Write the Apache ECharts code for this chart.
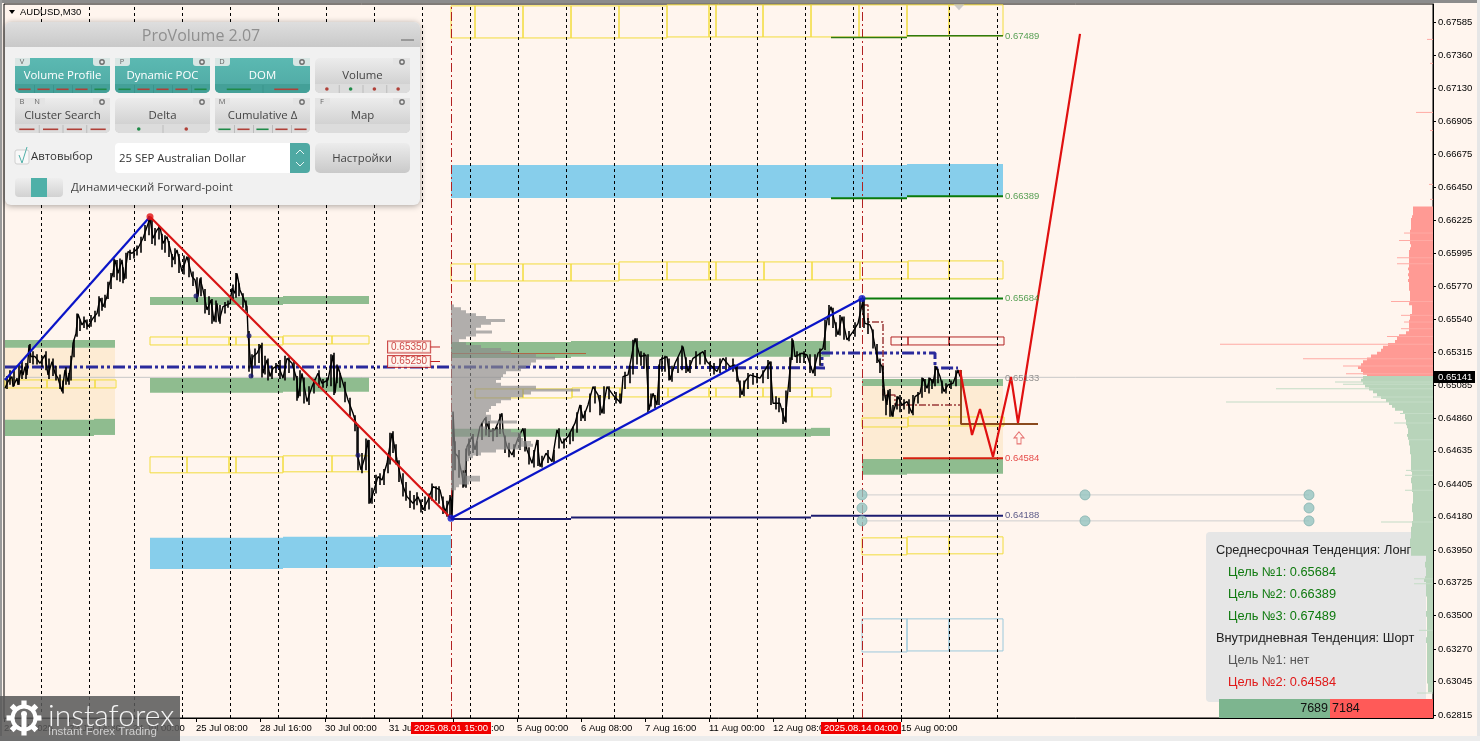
<!DOCTYPE html>
<html><head><meta charset="utf-8">
<style>html,body{margin:0;padding:0;background:#fff5ee;overflow:hidden}#c{width:1480px;height:741px}</style>
<script src="https://cdn.jsdelivr.net/npm/echarts@6/dist/echarts.min.js"></script>
</head><body><div id="c"></div>
<script>
// ---------- axes ----------
const priceTicks=[0.67585,0.67360,0.67130,0.66905,0.66675,0.66450,0.66225,0.65995,0.65770,0.65540,0.65315,0.65085,0.64860,0.64635,0.64405,0.64180,0.63950,0.63725,0.63500,0.63270,0.63045,0.62815];
const timeTickBars=[4,69,133,196,260,325,389,453,517,581,645,709,773,837,901];
const timeTickLabels=["21 Jul 2025","22 Jul 14:30","24 Jul 00:00","25 Jul 08:00","28 Jul 16:00","30 Jul 00:00","31 Jul 08:00","1 Aug 16:00","5 Aug 00:00","6 Aug 08:00","7 Aug 16:00","11 Aug 00:00","12 Aug 08:00","13 Aug 16:00","15 Aug 00:00"];
const daySeparatorBars=[41,89,134,182,230,278,326,374,422,470,518,566,614,662,710,757,805,853,901,949,997];
const sessionBars=[451,862];
const currentPrice=0.65141;
// ---------- price path [bar, price*1e5] ----------
const priceBars=[5,8,12,13,17,18,21,23,25,27,29,31,35,40,45,48,52,55,58,62,65,68,72,73,76,78,82,85,88,93,97,100,103,107,109,113,115,118,122,124,128,132,138,143,147,150,153,157,160,163,167,170,173,177,182,187,192,195,198,200,203,207,211,214,217,219,223,230,232,235,237,240,247,248,251,253,257,261,263,267,270,273,278,283,287,292,297,298,302,307,312,318,322,328,333,335,338,343,348,353,357,357,361,365,368,370,375,378,382,387,392,397,402,407,413,418,423,428,433,440,445,451,452,453,453,455,458,462,464,467,472,475,480,485,490,495,502,503,507,512,518,523,527,532,537,540,546,552,557,562,568,575,580,583,588,593,598,602,607,613,621,623,628,635,640,646,649,653,657,660,667,670,675,683,688,693,703,707,717,723,730,735,738,742,745,750,760,765,770,773,780,785,788,793,795,802,807,813,818,823,827,831,835,838,842,847,853,858,863,863,865,870,872,875,878,882,885,887,888,892,895,898,902,907,912,915,920,923,927,930,933,936,940,944,948,953,958,960];
const priceVals=[65066,65112,65146,65077,65135,65089,65192,65157,65215,65157,65364,65284,65284,65238,65295,65157,65249,65169,65135,65043,65192,65112,65284,65376,65444,65578,65502,65536,65490,65548,65582,65686,65628,65697,65777,65858,65950,65858,65950,65812,66007,65996,66030,66099,66179,66237,66099,66156,66179,66064,66110,66030,65950,66018,65869,65973,65835,65812,65697,65823,65743,65605,65674,65525,65651,65525,65628,65651,65754,65720,65858,65743,65628,65444,65215,65284,65307,65364,65169,65261,65146,65203,65226,65135,65272,65238,65123,64997,65169,64974,65077,65169,65100,65123,65295,65031,65215,65100,64985,64893,64802,64618,64503,64595,64710,64273,64388,64457,64434,64549,64756,64572,64411,64319,64273,64319,64228,64296,64388,64365,64216,64319,64170,64388,64905,64618,64595,64469,64388,64664,64733,64641,64802,64859,64767,64779,64893,64767,64664,64606,64721,64790,64641,64549,64710,64526,64618,64561,64779,64687,64733,64825,64951,64859,64951,65077,65020,64893,65077,65020,64962,65146,65158,65410,65284,65295,64916,65031,64951,65261,65284,65123,65238,65353,65181,65272,65318,65249,65181,65272,65215,65226,65135,65020,65112,65158,65135,65192,65249,64962,64962,64836,65054,65399,65284,65307,65295,65169,65307,65341,65536,65628,65513,65433,65559,65399,65456,65513,65674,65582,65513,65502,65468,65353,65261,65215,65008,64951,65054,64871,64940,65008,64951,64974,64894,65008,65031,65135,65066,65135,65100,65215,65146,65043,65089,65100,65192,65146];
// high-low ranges of bars read along the path [bar, high*1e5, low*1e5]
const barRanges=[[7,65150,65060],[10,65190,65090],[14,65200,65080],[19,65230,65090],[22,65260,65130],[26,65240,65130],[30,65370,65240],[33,65320,65230],[37,65300,65230],[42,65290,65210],[46,65320,65190],[49,65270,65130],[53,65270,65150],[56,65220,65120],[60,65160,65060],[63,65120,65030],[66,65210,65090],[69,65170,65090],[71,65290,65120],
[74,65400,65280],[77,65580,65420],[80,65540,65460],[84,65560,65480],[87,65540,65470],[91,65570,65490],[95,65600,65520],[99,65700,65560],[102,65690,65600],[105,65710,65620],[108,65800,65680],[111,65860,65750],[114,65960,65830],[117,65950,65810],[120,65960,65800],[123,65900,65790],[126,66000,65820],[130,66020,65950],[134,66030,65960],[137,66050,65980],[141,66110,66000],[145,66190,66080],[149,66250,66120],[152,66230,66060],[155,66170,66050],[159,66190,66090],[162,66130,66020],[165,66120,66000],[169,66080,65970],[172,65990,65900],[175,66030,65920],[179,65990,65860],[184,65980,65850],[189,65980,65830],[193,65870,65770],[197,65830,65660],[201,65830,65700],[205,65750,65580],[209,65700,65570],[212,65680,65510],[216,65670,65520],[220,65640,65510],[225,65660,65580],[228,65670,65620],[233,65780,65680],[236,65860,65690],[239,65790,65700],[243,65720,65620],[246,65670,65600],[249,65460,65180],[252,65300,65140],[255,65340,65220],[259,65370,65240],[262,65380,65140],[265,65290,65160],[268,65270,65120],[272,65220,65130],[276,65240,65170],[280,65260,65130],[285,65290,65120],[289,65280,65170],[294,65260,65120],[297,65150,64980],[300,65190,65010],[304,65140,64960],[309,65080,64950],[314,65130,65030],[319,65190,65070],[323,65130,65070],[327,65140,65080],[331,65300,65080],[334,65310,65020],[337,65230,65100],[340,65170,65070],[345,65110,64970],[350,65000,64870],[355,64880,64770],[358,64800,64500],[362,64620,64480],[366,64720,64500],[369,64710,64270],[372,64380,64270],[376,64470,64340],[380,64480,64400],[384,64510,64400],[388,64600,64480],[390,64760,64540],[393,64770,64620],[396,64680,64540],[399,64570,64420],[403,64480,64320],[406,64420,64290],[410,64360,64240],[414,64330,64230],[417,64350,64260],[421,64300,64210],[425,64320,64220],[429,64340,64230],[432,64410,64290],[436,64390,64290],[439,64390,64270],[443,64320,64200],[447,64290,64180],[450,64330,64190],
[455,64700,64500],[459,64640,64450],[463,64500,64380],[466,64650,64380],[469,64720,64600],[473,64750,64620],[477,64700,64600],[482,64830,64710],[486,64870,64740],[489,64840,64730],[493,64790,64700],[497,64800,64730],[500,64890,64750],[505,64740,64620],[509,64690,64590],[514,64680,64590],[520,64740,64640],[525,64790,64630],[529,64660,64540],[534,64640,64520],[538,64710,64530],[542,64600,64520],[548,64640,64550],[554,64640,64550],[559,64790,64650],[564,64720,64650],[570,64760,64680],[573,64800,64700],[577,64900,64760],[581,64950,64840],[585,64910,64840],[590,65030,64900],[595,65080,64960],[600,65020,64880],[604,65080,64890],[609,65080,64990],[616,65040,64960],[620,65030,64960],[625,65180,65060],[630,65220,65100],[633,65400,65160],[637,65410,65230],[641,65320,65220],[644,65310,65200],[648,65300,64900],[651,65030,64940],[655,65020,64930],[659,65230,64950],[662,65280,65180],[665,65290,65180],[669,65270,65120],[672,65220,65110],[678,65280,65170],[682,65360,65190],[686,65280,65170],[690,65260,65170],[696,65320,65200],[700,65310,65230],[705,65330,65230],[710,65250,65180],[714,65240,65160],[720,65270,65170],[726,65280,65190],[733,65270,65180],[737,65220,65110],[740,65120,65000],[744,65120,65010],[748,65170,65060],[753,65170,65090],[757,65170,65100],[763,65190,65100],[768,65260,65130],[771,65250,64950],[776,65010,64920],[779,65000,64900],[783,64930,64820],[786,65050,64830],[790,65280,65040],[792,65410,65260],[797,65320,65240],[800,65310,65240],[804,65320,65240],[810,65300,65170],[815,65300,65150],[820,65340,65220],[825,65540,65330],[829,65640,65500],[833,65620,65480],[836,65520,65420],[840,65570,65430],[844,65560,65400],[849,65460,65390],[855,65520,65420],[860,65680,65480],
[864,65680,65480],[868,65550,65440],[873,65470,65340],[877,65370,65240],[880,65270,65170],[883,65220,64980],[886,65020,64880],[890,65060,64870],[893,64950,64870],[897,65010,64920],[900,65020,64900],[904,64990,64920],[909,64990,64890],[913,65020,64880],[918,65040,64960],[922,65140,65000],[925,65130,65040],[929,65140,65030],[932,65130,65060],[935,65220,65080],[938,65200,65100],[942,65120,65030],[946,65100,65030],[951,65120,65060],[956,65190,65080]];
// ---------- zones [barStart, barEnd, priceTop, priceBottom] ----------
const greenZones=[[5,115,.65399,.65344],[5,94,.64848,.64737],[94,115,.64855,.64744],[150,283,.65695,.65640],[283,369,.65702,.65647],[150,283,.65137,.65034],[283,369,.65144,.65041],[451,571,.65385,.65275],[571,830,.65392,.65282],[451,811,.64786,.64731],[811,830,.64793,.64737],[862,1003,.65130,.65082],[862,907,.64579,.64469],[907,1003,.64579,.64476]];
const orangeZones=[[5,115,.65344,.64848],[862,1003,.65082,.64579]];
const blueZones=[[150,283,.64035,.63821],[283,378,.64042,.63828],[378,451,.64055,.63835],[451,907,.66604,.66377],[907,1003,.66611,.66391]];
const yellowBoxes=[[451,475,.67700,.67479],[475,523,.67700,.67479],[523,571,.67700,.67479],[571,619,.67700,.67479],[619,667,.67700,.67479],[667,709,.67707,.67486],[709,716,.67707,.67486],[716,763,.67707,.67486],[763,811,.67707,.67486],[811,859,.67707,.67486],[859,907,.67707,.67486],[907,949,.67707,.67493],[949,1003,.67707,.67493],
[451,475,.65922,.65805],[475,523,.65922,.65805],[523,571,.65922,.65805],[571,619,.65922,.65805],[619,667,.65936,.65812],[667,709,.65936,.65812],[709,716,.65936,.65812],[716,764,.65936,.65812],[764,812,.65936,.65812],[812,860,.65936,.65812],[860,908,.65936,.65819],[908,949,.65943,.65819],[949,1003,.65943,.65819],
[150,187,.65419,.65364],[187,229,.65419,.65364],[229,236,.65419,.65364],[236,283,.65419,.65364],[283,332,.65426,.65371],[332,369,.65426,.65371],
[150,187,.64593,.64483],[187,229,.64593,.64483],[229,236,.64593,.64483],[236,283,.64593,.64483],[283,332,.64600,.64490],[332,369,.64600,.64490],
[5,47,.65123,.65068],[47,95,.65123,.65068],[95,116,.65123,.65068],
[475,523,.65061,.64999],[523,572,.65061,.64999],[572,620,.65068,.65006],[620,668,.65068,.65006],[668,709,.65068,.65006],[709,716,.65068,.65006],[716,763,.65068,.65006],[763,812,.65068,.65006],[812,831,.65068,.65006],
[862,908,.64861,.64799],[908,949,.64868,.64806],[949,1004,.64868,.64806],
[862,907,.64035,.63918],[907,949,.64042,.63925],[949,1003,.64042,.63925]];
const lightBlueBoxes=[[862,907,.63477,.63249],[907,949,.63477,.63256],[949,1003,.63477,.63256]];
const redBoxes=[[891,908,.65419,.65364],[908,949,.65419,.65364],[949,1004,.65419,.65364]];
// ---------- lines [bar, price] ----------
const trendUp1=[[5,.65123],[150,.66247]];
const trendDown=[[150,.66247],[451,.64170]];
const trendUp2=[[451,.64170],[862,.65684]];
const pocLine=[[5,.65213],[451,.65213],[825,.65206],[822,.65206],[822,.65309],[935,.65309],[935,.65206],[958,.65206]];
const dynPocLine=[[863,.65640],[868,.65640],[868,.65523],[883,.65523],[883,.65020],[895,.65020],[895,.64951],[960,.64951]];
const forecast=[[960,.65192],[972,.64744],[980,.64923],[993,.64593],[1011,.65144],[1018,.64827],[1080,.67507]];
const brownLine=[[961,.65192],[961,.64820],[1038,.64820]];
const target3=[[[831,.67483],[907,.67483]],[[907,.67495],[1003,.67495]]];
const target2=[[[831,.66375],[907,.66375]],[[907,.66389],[1003,.66389]]];
const target1=[[862,.65684],[1003,.65684]];
const supportLow=[[[451,.64165],[571,.64165]],[[571,.64175],[811,.64175]],[[811,.64188],[1003,.64188]]];
const targetDown=[[903,.64584],[1003,.64584]];
const pocBrown=[[451,.65305],[586,.65305]];
const linkLines=[[[862,.64331],[1309,.64331]],[[862,.64152],[1309,.64152]]];
const linkDots=[[862,.64331],[862,.64241],[862,.64152],[1085,.64331],[1085,.64152],[1309,.64331],[1309,.64241],[1309,.64152]];
const pivotRed=[[150,.66247]];
const pivotBlue=[[451,.64170],[862,.65684]];
const smallDots=[[196,.65702],[249,.65427],[251,.65151],[358,.64604]];
// ---------- volume profile left of session 1 (rows every 0.00020 from the top) ----------
const grayProfileTop=.65633;
const grayProfile=[3,10,15,25,35,54,40,30,25,41,25,15,8,15,30,50,60,85,104,85,80,75,70,55,52,50,45,50,85,129,80,72,60,50,45,40,38,35,40,40,66,30,35,60,70,70,72,80,82,70,45,30,22,18,15,15,15,12,15,29,29,18,8,5];
// ---------- DOM on right ----------
const domRowStep=.0002;
const askTop=.66308;
const askVols=[20,20,20,21,22,22,22,22,23,23,23,23,23,22,23,24,24,24,24,24,24,25,24,25,24,25,24,24,24,23,23,23,23,24,21,21,21,23,23,24,24,24,24,27,34,36,38,45,50,52,56,62,66,70,72,75,72,70,66];
const askSpikes=[[.67472,6],[.67307,3],[.66969,17],[.66845,3],[.66473,4],[.66370,3],[.66138,29],[.66087,34],[.65968,36],[.65927,36],[.65667,42],[.65571,32],[.65525,29],[.65479,32],[.65426,46],[.65371,213],[.65272,130],[.65222,90],[.65169,87]];
const bidTop=.65141;
const bidVols=[70,72,70,68,64,60,56,52,47,44,41,38,30,28,28,27,27,26,25,25,26,25,24,24,23,23,23,22,22,22,22,22,22,21,21,22,22,21,21,21,20,20,20,20,21,21,21,20,20,20,21,21,22,22,22,22,23,23,23,22,22,22,7,7,8,8,7,7,7,8,9,7,7,7,7,7,6,6,6,6,6,7,7,6,6,6,6,6,6,6,7,7,6,6,6,6,6,6,6,6,6,6,6,6,6,6,5,5,5];
const bidSpikes=[[.65112,98],[.65096,90],[.65066,157],[.65008,60],[.64974,207],[.64894,33],[.64829,39],[.64714,24],[.64503,27],[.64469,28],[.64366,28],[.64147,52],[.63756,19],[.63722,19],[.63401,14],[.62969,16]];
const domBuy=7689, domSell=7184;
// ---------- texts ----------
const infoLines=[["Среднесрочная Тенденция: Лонг","#222",1216],["Цель №1: 0.65684","#0f7a0f",1228],["Цель №2: 0.66389","#0f7a0f",1228],["Цель №3: 0.67489","#0f7a0f",1228],["Внутридневная Тенденция: Шорт","#222",1216],["Цель №1: нет","#555",1228],["Цель №2: 0.64584","#e01818",1228]];

const AX='"Liberation Sans",Arial,sans-serif', UI='"Open Sans",sans-serif';
const X0=4,Y0=4,W=1429,H=714;
const pMax=.67713,pMin=.62794;

function boxSeries(name,data,style,z){return{name,type:'custom',coordinateSystem:'cartesian2d',z,silent:true,animation:false,clip:true,
  encode:{x:[0,1],y:[2,3]},data,
  renderItem(p,api){const a=api.coord([api.value(0),api.value(2)]),b=api.coord([api.value(1),api.value(3)]);
    return{type:'rect',shape:{x:a[0],y:a[1],width:b[0]-a[0],height:b[1]-a[1]},style};}};}
function line(name,data,color,width,z,type){return{name,type:'line',data,z,symbol:'none',silent:true,animation:false,clip:true,
  lineStyle:{color,width,type:type||'solid',cap:'butt'}};}
function multiLine(name,list,color,width,z){return list.map((d,i)=>line(name+(i||''),d,color,width,z));}
function tag(name,data,color,z){return{name,type:'scatter',symbolSize:0,z,silent:true,animation:false,data,
  label:{show:true,position:'right',distance:2,formatter:p=>p.value[1].toFixed(5),color,fontSize:9.5,fontFamily:AX}};}
function dots(name,data,color,size,z,extra){return Object.assign({name,type:'scatter',symbol:'circle',symbolSize:size,z,silent:true,animation:false,data,itemStyle:{color}},extra||{});}
// thin rows: one rectangle each
function profile(name,rows,fill,z,barOfVol,rowH){return{name,type:'custom',coordinateSystem:'cartesian2d',z,silent:true,animation:false,clip:true,
  data:rows,encode:{y:0},
  renderItem(p,api){const price=api.value(0),v=api.value(1);
    const a=api.coord(barOfVol(0,price+rowH/2)),b=api.coord(barOfVol(v,price-rowH/2));
    const x=Math.min(a[0],b[0]),w=Math.abs(b[0]-a[0]);
    return{type:'rect',shape:{x,y:a[1],width:w,height:Math.max(b[1]-a[1],1)},style:{fill}};}};}
// contiguous rows: one stepped outline through the scales
function stepProfile(name,rows,fill,z,barOfVol,rowH){return{name,type:'custom',coordinateSystem:'cartesian2d',z,silent:true,animation:false,clip:true,
  data:rows,encode:{y:0},
  renderItem(p,api){ if(p.dataIndex!==0) return null;
    const pts=[api.coord(barOfVol(0,rows[0][0]+rowH/2))];
    rows.forEach(r=>{pts.push(api.coord(barOfVol(r[1],r[0]+rowH/2)));pts.push(api.coord(barOfVol(r[1],r[0]-rowH/2)));});
    pts.push(api.coord(barOfVol(0,rows[rows.length-1][0]-rowH/2)));
    return{type:'polygon',shape:{points:pts},style:{fill}};}};}
const rowsFrom=(top,vols)=>vols.map((v,i)=>[top-i*domRowStep,v]);
const fromRight=(v,p)=>[1433-v,p], fromLeft=(v,p)=>[451+v,p];

// ---------- overlay UI (graphic) ----------
const G=[];
const R=(x,y,w,h,fill,o)=>G.push(Object.assign({type:'rect',z:60,silent:true,shape:{x,y,width:w,height:h,r:(o&&o.r)||0},style:Object.assign({fill},(o&&o.s)||{})},o&&o.z?{z:o.z}:{}));
const T=(x,y,text,font,fill,align,z)=>G.push({type:'text',z:z||62,silent:true,x,y,style:{text,font,fill,textAlign:align||'left',textVerticalAlign:'middle'}});
const grad=(a,b)=>({type:'linear',x:0,y:0,x2:0,y2:1,colorStops:[{offset:0,color:a},{offset:1,color:b}]});
// outer chrome
R(0,0,1480,3,'#8c8c8c',{z:70});R(0,0,2,741,'#9a9a9a',{z:70});R(1477,0,3,741,'#e6e6e6',{z:70});R(0,736,1480,5,'#ececec',{z:70});
// symbol label
G.push({type:'polygon',z:60,silent:true,shape:{points:[[9,10],[15,10],[12,14]]},style:{fill:'#000'}});
T(20,12,'AUDUSD,M30','9.5px '+AX,'#000');
// panel
R(5,22,415,183,'#f1f1f1',{r:6,s:{shadowBlur:6,shadowColor:'rgba(0,0,0,.35)',shadowOffsetY:1}});
R(5,22,415,25,grad('#dedede','#c9c9c9'),{r:[6,6,0,0]});
T(201,36,'ProVolume 2.07','16px '+UI,'#8f8f8f','center');
R(401,39,13,2,'#999');
const UIF='11.4px '+UI;
function button(x,y,w,label,active,tabs,ind){
  const h=35,main=active?grad('#5bb9b2','#4fa9a3'):grad('#ececec','#c9c9c9');
  R(x,y,w,h,main,{r:5});
  R(x,y+26,w,9,active?'#44a098':'#dcdcdc',{r:[0,0,5,5]});
  tabs.forEach((t,i)=>{R(x+i*15,y,15,8,active?'#d9e6e4':'#e4e4e4',{r:[0,0,3,0]});T(x+i*15+7,y+4,t,'7.5px '+UI,'#666','center');});
  R(x+w-17,y,17,8,active?'#d9e6e4':'#e4e4e4',{r:[0,0,0,3]});
  G.push({type:'circle',z:62,silent:true,shape:{cx:x+w-8,cy:y+4,r:2.2},style:{fill:'#e8e8e8',stroke:'#6f6f6f',lineWidth:1.4}});
  T(x+w/2,y+18,label,UIF,active?'#fff':'#444','center');
  const n=ind.length;
  ind.forEach((c,i)=>{const cw=w/n,cx=x+cw*i+cw/2;
    if(i>0)R(x+cw*i,y+27,1,8,active?'#3b938c':'#bcbcbc');
    if(c[0]==='.')G.push({type:'circle',z:62,silent:true,shape:{cx,cy:y+31,r:1.8},style:{fill:c.slice(1)}});
    else if(c)R(cx-Math.min(cw*.32,12),y+30.5,Math.min(cw*.64,24),1.6,c);});
}
const rd='#b04038',gr='#1f8a48';
button(15,58,95,'Volume Profile',true,['V'],[rd,rd,rd,rd,gr]);
button(115,58,95,'Dynamic POC',true,['P'],[gr,rd,rd,rd,gr]);
button(215,58,95,'DOM',true,['D'],[gr,rd]);
button(315,58,95,'Volume',false,[],['.'+rd,'.'+gr,'.'+rd,'.'+rd]);
button(15,98,95,'Cluster Search',false,['B','N'],[rd,rd,rd,rd]);
button(115,98,95,'Delta',false,[],['.'+gr,'.'+rd]);
button(215,98,95,'Cumulative Δ',false,['M'],[gr,rd,gr,rd,rd]);
button(315,98,95,'Map',false,['F'],[]);
R(15,150,14,14,'#f8f8f8',{r:2,s:{stroke:'#cfcfcf',lineWidth:1}});
G.push({type:'polyline',z:63,silent:true,shape:{points:[[19,155],[22,163],[27,147]]},style:{stroke:'#4fb0a8',lineWidth:1,fill:'none'}});
T(31,157,'Автовыбор',UIF,'#333');
R(115,143,195,30,'#fff',{r:4});
R(290,143,20,30,'#4fa9a3',{r:[0,4,4,0]});
G.push({type:'polyline',z:63,silent:true,shape:{points:[[296,154],[300,150],[304,154]]},style:{stroke:'#e8f4f3',lineWidth:1,fill:'none'}});
G.push({type:'polyline',z:63,silent:true,shape:{points:[[296,162],[300,166],[304,162]]},style:{stroke:'#e8f4f3',lineWidth:1,fill:'none'}});
T(119,159,'25 SEP Australian Dollar',UIF,'#333');
R(315,143,95,30,grad('#ececec','#c9c9c9'),{r:5});
T(362,159,'Настройки',UIF,'#444','center');
R(15,178,48,19,grad('#eeeeee','#d2d2d2'),{r:4});
R(31,178,16,19,'#4fb0a8');
T(71,188,'Динамический Forward-point',UIF,'#444');
// info panel (below DOM bars, text above)
R(1206,532,220,170,'#e6e6e6',{r:4,z:1});
infoLines.forEach((l,i)=>T(l[2],550.5+i*22,l[0],'12.8px '+AX,l[1],'left',20));
// DOM balance bar
R(1219,699,111,19,'#7db58f',{z:20});R(1330,699,103,19,'#ff5a58',{z:20});
T(1328,709,String(domBuy),'12.5px '+AX,'#111','right',21);T(1332,709,String(domSell),'12.5px '+AX,'#111','left',21);
// current price flag
R(1434,371,41,12,'#000',{z:30});T(1438,377.5,currentPrice.toFixed(5),'9.5px '+AX,'#fff','left',31);
// red time flags
R(411,722,80,12,'#f00000',{z:30});T(451,728.5,'2025.08.01 15:00','9.5px '+AX,'#fff','center',31);
R(821,722,80,12,'#f00000',{z:30});T(861,728.5,'2025.08.14 04:00','9.5px '+AX,'#fff','center',31);
// watermark
R(0,696,180,45,'rgba(88,88,88,.86)',{z:80});
for(let k=0;k<8;k++)G.push({type:'rect',z:81,silent:true,x:24,y:718,rotation:k*Math.PI/4,shape:{x:-2.6,y:-17.5,width:5.2,height:7},style:{fill:'#fff'}});
G.push({type:'circle',z:81,silent:true,shape:{cx:24,cy:718,r:11.5},style:{fill:'none',stroke:'#fff',lineWidth:4}});
G.push({type:'circle',z:81,silent:true,shape:{cx:24,cy:714,r:3},style:{fill:'#fff'}});
G.push({type:'rect',z:81,silent:true,shape:{x:21.5,y:716,width:5,height:12},style:{fill:'#fff'}});
T(48,716,'instaforex','300 30px Lato,'+UI,'#f4f4f4','left',82);
T(48,732,'Instant Forex Trading','11.5px '+AX,'#cfcfcf','left',82);

const series=[
  boxSeries('orange',orangeZones,{fill:'#fdebd3'},1),
  boxSeries('green',greenZones,{fill:'#8fbc8f'},1),
  boxSeries('blue',blueZones,{fill:'#87ceeb'},1),
  line('now',[[4,currentPrice],[1433,currentPrice]],'#c8c8c8',1,2),
  ...linkLines.map((d,i)=>line('link'+i,d,'#cfcfcf',1,2)),
  boxSeries('yellow',yellowBoxes,{fill:'none',stroke:'#f2dc3c',lineWidth:1},3),
  boxSeries('lightblue',lightBlueBoxes,{fill:'none',stroke:'#9cc9dc',lineWidth:1},3),
  boxSeries('redbox',redBoxes,{fill:'none',stroke:'#b22222',lineWidth:1},3),
  {name:'days',type:'line',data:[],z:4,silent:true,animation:false,markLine:{silent:true,symbol:'none',animation:false,label:{show:false},lineStyle:{color:'#000',width:1,type:[3,3]},
    data:daySeparatorBars.map(b=>({xAxis:b}))}},
  {name:'sessions',type:'line',data:[],z:4,silent:true,animation:false,markLine:{silent:true,symbol:'none',animation:false,label:{show:false},lineStyle:{color:'#b22222',width:1,type:[9,3,2,3]},
    data:sessionBars.map(b=>({xAxis:b}))}},
  line('poc',pocLine,'#2a2a9c',3,5,[12,3,3,3,3,3]),
  line('dynpoc',dynPocLine,'#9b3a3a',1.5,5,[7,2,2,2]),
  line('pocBrown',pocBrown,'#b5603c',1,6),
  line('price',priceBars.map((b,i)=>[b,priceVals[i]/1e5]),'#000',1.4,6),
  {name:'ranges',type:'custom',coordinateSystem:'cartesian2d',z:6,silent:true,animation:false,clip:true,data:barRanges,encode:{x:0,y:[1,2]},
    renderItem(p,api){const a=api.coord([api.value(0),api.value(1)/1e5]),b=api.coord([api.value(0),api.value(2)/1e5]);
      return{type:'line',shape:{x1:a[0],y1:a[1],x2:b[0],y2:b[1]},style:{stroke:'#000',lineWidth:1.6}};}},
  dots('small',smallDots,'#16166e',5,7),
  stepProfile('gray',rowsFrom(grayProfileTop,grayProfile),'rgba(140,140,140,.68)',7,fromLeft,domRowStep),
  line('up1',trendUp1,'#0a14c8',2.2,8),line('up2',trendUp2,'#0a14c8',2.2,8),line('down',trendDown,'#d81414',2.2,8),
  ...multiLine('t3',target3,'#2f7a10',1.5,8),
  ...multiLine('t2',target2,'#0a7a0a',2,8),
  line('t1',target1,'#0a7a0a',2,8),
  ...multiLine('low',supportLow,'#1c1c70',2,8),
  line('tdown',targetDown,'#d62010',2,8),
  line('brown',brownLine,'#8a4a1e',2,8),
  line('forecast',forecast,'#e01010',2.2,9),
  dots('linkdots',linkDots,'#95c4c0',10,9,{itemStyle:{color:'#95c4c0',borderColor:'#86b3b0',borderWidth:1}}),
  dots('pr',pivotRed,'#e01010',7,10),dots('pb',pivotBlue,'#0a14c8',7,10),
  {name:'arrow',type:'scatter',z:10,silent:true,animation:false,data:[[1019,.64724]],symbol:'path://M5 0 L10 6 L7 6 L7 12 L3 12 L3 6 L0 6 Z',symbolSize:[10,12],itemStyle:{color:'rgba(0,0,0,0)',borderColor:'#e05050',borderWidth:1}},
  {name:'mark',type:'scatter',z:10,silent:true,animation:false,data:[[959,.67690]],symbol:'triangle',symbolRotate:180,symbolSize:[11,6],itemStyle:{color:'#c0c0c0'}},
  tag('tg1',[[1003,.67489],[1003,.66389],[1003,.65684]],'#2e8b2e',11),
  tag('tg2',[[1003,.65133]],'#777',11),
  tag('tg3',[[1003,.64584]],'#e02020',11),
  tag('tg4',[[1003,.64188]],'#33336e',11),
  {name:'flags',type:'scatter',symbolSize:0,z:11,silent:true,animation:false,data:[[388,.65350],[388,.65250]],
    label:{show:true,position:'right',distance:0,formatter:p=>p.value[1].toFixed(5),color:'#c02020',fontSize:10,fontFamily:AX,borderColor:'#c02020',borderWidth:1,padding:[1,3,0,3],backgroundColor:'#fff5ee'}},
  line('f1',[[430,.65350],[440,.65350]],'#c02020',1,11),line('f2',[[430,.65250],[440,.65250]],'#c02020',1,11),
  stepProfile('ask',rowsFrom(askTop,askVols),'#ff9a94',12,fromRight,domRowStep),
  profile('askS',askSpikes,'#ffaaa4',12,fromRight,.00001),
  stepProfile('bid',rowsFrom(bidTop,bidVols),'#b8d4ba',12,fromRight,domRowStep),
  profile('bidS',bidSpikes,'#c4dcc6',12,fromRight,.00001),
];

const chart=echarts.init(document.getElementById('c'),null,{renderer:'canvas'});
chart.setOption({
  animation:false,backgroundColor:'#fff5ee',
  grid:{left:X0,top:Y0,width:W,height:H,show:true,backgroundColor:'#fff5ee',borderColor:'#000',borderWidth:1},
  xAxis:{type:'value',min:4,max:1433,splitLine:{show:false},
    axisLine:{show:true,lineStyle:{color:'#000'}},
    axisTick:{show:true,length:4,customValues:timeTickBars,lineStyle:{color:'#000'}},
    axisLabel:{show:true,customValues:timeTickBars,align:'left',margin:5,color:'#000',fontSize:9.5,fontFamily:AX,
      formatter:v=>timeTickLabels[timeTickBars.indexOf(v)]||''}},
  yAxis:{type:'value',position:'right',min:pMin,max:pMax,scale:true,splitLine:{show:false},
    axisLine:{show:true,onZero:false,lineStyle:{color:'#000'}},
    axisTick:{show:true,length:3,customValues:priceTicks,lineStyle:{color:'#000'}},
    axisLabel:{show:true,customValues:priceTicks,margin:5,color:'#000',fontSize:9.5,fontFamily:AX,formatter:v=>v.toFixed(5)}},
  series,
  graphic:{elements:G}
});
</script></body></html>
